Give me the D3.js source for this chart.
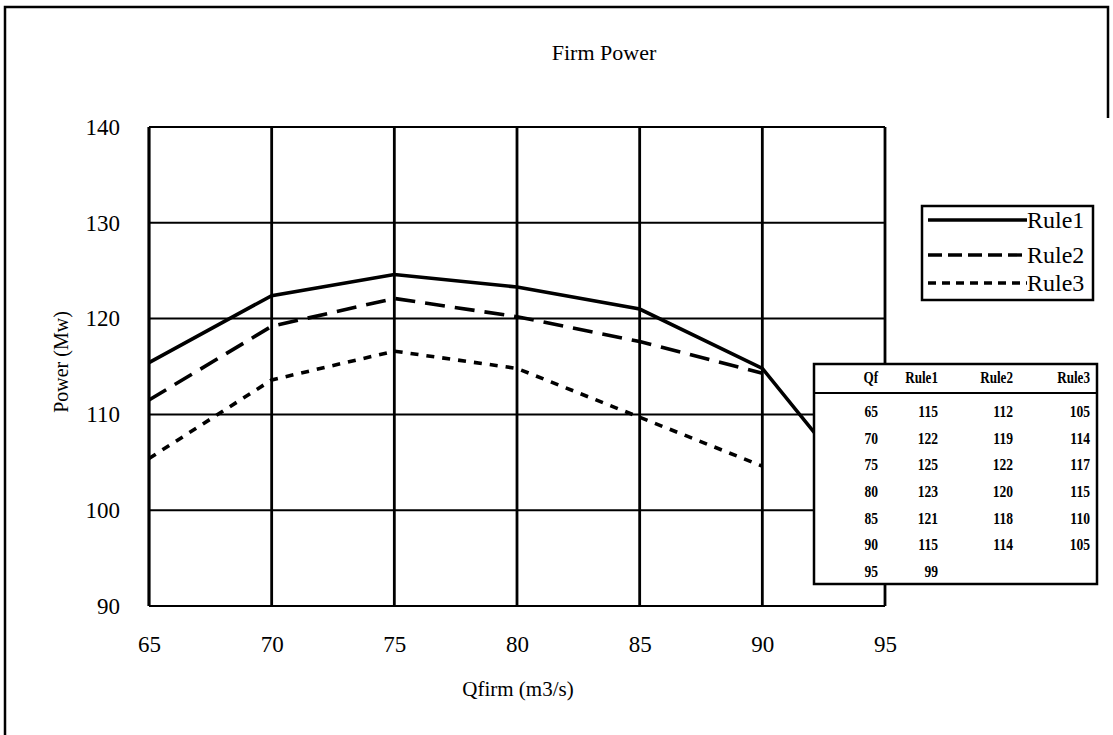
<!DOCTYPE html>
<html>
<head>
<meta charset="utf-8">
<script src="https://cdn.jsdelivr.net/npm/d3@7"></script>
<style>
  body { margin: 0; background: #fff; }
  text { font-family: "Liberation Serif", "DejaVu Serif", serif; fill: #000; }
</style>
</head>
<body>
<div class="chart"></div>
<script>
// data
var qfirm = [65, 70, 75, 80, 85, 90, 95];
var rule1 = [115.4, 122.4, 124.6, 123.3, 121.0, 114.8, 99.0];
var rule2 = [111.5, 119.2, 122.1, 120.2, 117.6, 114.3];
var rule3 = [105.4, 113.6, 116.6, 114.8, 109.7, 104.6];
var seriesNames = ["Rule1", "Rule2", "Rule3"];
var xTicks = [65, 70, 75, 80, 85, 90, 95];
var yTicks = [90, 100, 110, 120, 130, 140];

var W = 1113, H = 735;
var margin = { top: 127, right: 228, bottom: 129, left: 149 };

var svg = d3.select(".chart").append("svg")
  .attr("width", W)
  .attr("height", H);

// outer frame of the scanned figure
svg.append("path")
  .attr("d", "M5,740 L5,7 L1108,7 L1108,118")
  .style("fill", "none")
  .style("stroke", "#000")
  .style("stroke-width", 2.5);

var x = d3.scaleLinear().domain([65, 95]).range([margin.left, W - margin.right]);
var y = d3.scaleLinear().domain([90, 140]).range([H - margin.bottom, margin.top]);

// title
svg.append("text")
  .attr("x", 604).attr("y", 60)
  .attr("text-anchor", "middle")
  .style("font-size", "22px")
  .text("Firm Power");

//grid
var grid = svg.append("g").attr("class", "grid");
grid.selectAll(".hline")
  .data(yTicks)
  .enter().append("line")
  .attr("x1", x(65)).attr("x2", x(95))
  .attr("y1", function (d) { return y(d); })
  .attr("y2", function (d) { return y(d); })
  .style("stroke", "#000")
  .style("stroke-width", 2);
grid.selectAll(".vline")
  .data(xTicks)
  .enter().append("line")
  .attr("y1", y(90)).attr("y2", y(140))
  .attr("x1", function (d) { return x(d); })
  .attr("x2", function (d) { return x(d); })
  .style("stroke", "#000")
  .style("stroke-width", function (d, i) { return (i == 0) ? 3.2 : 2.8; });

// axes (labels only, the grid draws the lines)
var xAxis = svg.append("g")
  .attr("transform", "translate(0," + (y(90) + 27) + ")")
  .call(d3.axisBottom(x).tickValues(xTicks).tickSize(0));
xAxis.select(".domain").remove();
xAxis.selectAll("text").style("font-size", "23px").attr("font-family", null);

var yAxis = svg.append("g")
  .attr("transform", "translate(" + (x(65) - 26) + ",0)")
  .call(d3.axisLeft(y).tickValues(yTicks).tickSize(0));
yAxis.select(".domain").remove();
yAxis.selectAll("text").style("font-size", "23px").attr("font-family", null);

svg.append("text")
  .attr("x", 518).attr("y", 696)
  .attr("text-anchor", "middle")
  .style("font-size", "21px")
  .text("Qfirm (m3/s)");

svg.append("text")
  .attr("transform", "translate(68,362) rotate(-90)")
  .attr("text-anchor", "middle")
  .style("font-size", "20px")
  .text("Power (Mw)");

// series
var dashes = ["none", "20,10", "8,8"];
var series = [rule1, rule2, rule3].map(function (vals, k) {
  return { name: seriesNames[k], dash: dashes[k],
    values: vals.map(function (v, i) { return { q: qfirm[i], p: v }; }) };
});

var line = d3.line()
  .x(function (d) { return x(d.q); })
  .y(function (d) { return y(d.p); });

svg.selectAll(".series")
  .data(series)
  .enter().append("path")
  .attr("class", "series")
  .attr("d", function (d) { return line(d.values); })
  .style("fill", "none")
  .style("stroke", "#000")
  .style("stroke-width", 3.6)
  .style("stroke-dasharray", function (d) { return d.dash; });

// legend
var legend = svg.append("g").attr("transform", "translate(922,206)");
legend.append("rect")
  .attr("width", 171).attr("height", 94)
  .style("fill", "#fff")
  .style("stroke", "#000")
  .style("stroke-width", 2.5);
var legRows = [14, 49, 77];
var item = legend.selectAll(".item")
  .data(series)
  .enter().append("g")
  .attr("transform", function (d, i) { return "translate(0," + legRows[i] + ")"; });
item.append("line")
  .attr("x1", 6).attr("x2", 105)
  .style("stroke", "#000")
  .style("stroke-width", 3.4)
  .style("stroke-dasharray", function (d) { return d.dash == "20,10" ? "14,6" : (d.dash == "8,8" ? "8,6" : "none"); });
item.append("text")
  .attr("x", 105).attr("dy", "0.35em")
  .style("font-size", "24px")
  .text(function (d) { return d.name; });

// data table
var tbl = svg.append("g").attr("transform", "translate(814,364)");
tbl.append("rect")
  .attr("width", 283).attr("height", 220)
  .style("fill", "#fff")
  .style("stroke", "#000")
  .style("stroke-width", 2.5);
tbl.append("line")
  .attr("x1", 0).attr("x2", 283).attr("y1", 29).attr("y2", 29)
  .style("stroke", "#000").style("stroke-width", 2);

var colRight = [64, 124, 199, 276];
var headers = ["Qf"].concat(seriesNames);
tbl.selectAll(".hdr")
  .data(headers)
  .enter().append("text")
  .attr("transform", function (d, i) { return "translate(" + colRight[i] + ",19) scale(0.82,1)"; })
  .attr("text-anchor", "end")
  .style("font-size", "16px")
  .style("font-weight", "bold")
  .text(function (d) { return d; });

var fmt = d3.format(".0f");
var rowY = d3.scaleLinear().domain([0, 6]).range([53, 213]);
qfirm.forEach(function (q, i) {
  var cells = [q, rule1[i], rule2[i], rule3[i]];
  cells.forEach(function (v, j) {
    if (v === undefined) return;
    tbl.append("text")
      .attr("transform", "translate(" + colRight[j] + "," + rowY(i) + ") scale(0.8,1)")
      .attr("text-anchor", "end")
      .style("font-size", "17px")
      .style("font-weight", "bold")
      .text(fmt(v));
  });
});
</script>
</body>
</html>
